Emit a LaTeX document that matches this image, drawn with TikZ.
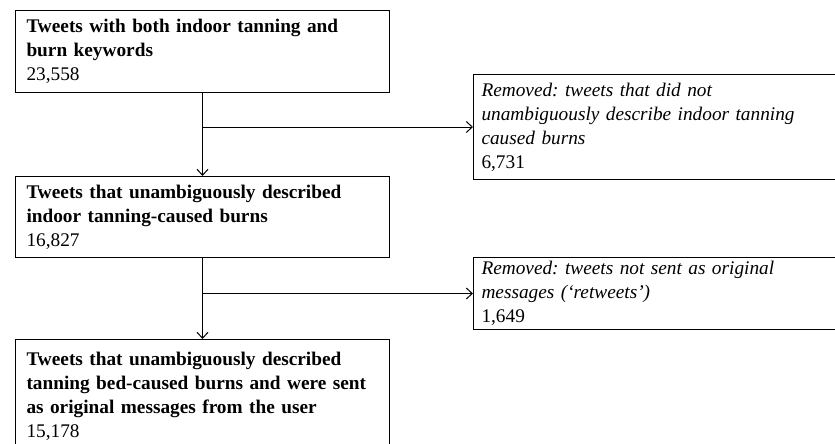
\documentclass[tikz,border=0pt]{standalone}
\usepackage{fontspec}
\setmainfont{Liberation Serif}
\usetikzlibrary{arrows.meta}
\frenchspacing

\begin{document}
\begin{tikzpicture}[x=1pt,y=-1pt,line width=1pt,
	>={Straight Barb[length=6pt,width=11pt]},
	stage/.style={draw,anchor=north west,text width=352pt,inner xsep=11pt,inner ysep=0pt,
		align=left,font=\fontsize{19.3}{24}\selectfont},
	removed/.style={stage,text width=380pt,inner xsep=8pt}]
	\useasboundingbox (0,0) rectangle (835,444);
	% stages kept
	\node [stage,minimum height=82pt] (kw) at (15,10)
		{\textbf{Tweets with both indoor tanning and}\\\textbf{burn keywords}\\23,558};
	\node [stage,minimum height=81pt] (ambig) at (15,176)
		{\textbf{Tweets that unambiguously described}\\\textbf{indoor tanning-caused burns}\\16,827};
	\node [stage,inner ysep=13pt] (orig) at (15,339)
		{\textbf{Tweets that unambiguously described}\\\textbf{tanning bed-caused burns and were sent}\\\textbf{as original messages from the user}\\15,178};
	% stages removed
	\node [removed,minimum height=105pt] (notamb) at (473,74)
		{\textit{Removed: tweets that did not}\\\textit{unambiguously describe indoor tanning}\\\textit{caused burns}\\6,731};
	\node [removed,minimum height=72pt] (retw) at (473,257)
		{\textit{Removed: tweets not sent as original}\\\textit{messages (‘retweets’)}\\1,649};
	% connectors
	\draw [->] (kw.south) -- (ambig.north);
	\draw [->] (kw.south |- notamb.west) -- (notamb.west);
	\draw [->] (ambig.south) -- (orig.north);
	\draw [->] (ambig.south |- retw.west) -- (retw.west);
\end{tikzpicture}
\end{document}
